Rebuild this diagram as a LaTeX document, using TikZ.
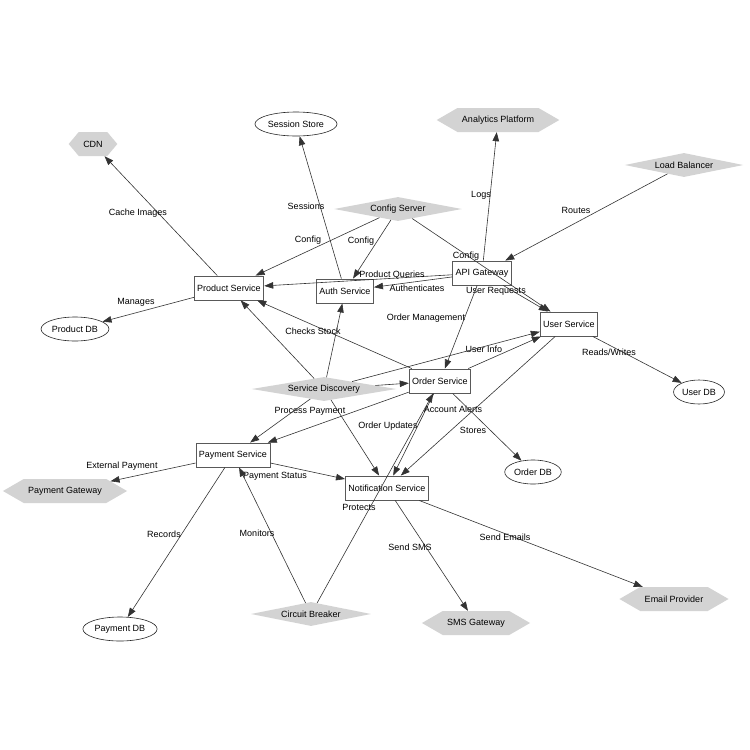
\documentclass[tikz,border=0pt]{standalone}
\usepackage{fontspec}
\setmainfont{Liberation Sans}
\usetikzlibrary{shapes.geometric,shapes.symbols,arrows.meta}
\definecolor{hubgray}{HTML}{D3D3D3}

\begin{document}
\begin{tikzpicture}[x=1pt,y=-1pt,
        font=\fontsize{9}{11}\selectfont,
        svcbox/.style={draw=black!65, line width=0.9pt, rectangle, inner xsep=3pt, minimum height=24pt},
        dbnode/.style={draw=black!85, line width=0.6pt, ellipse, inner sep=1pt, minimum height=24pt},
        hubnode/.style={fill=hubgray, diamond, aspect=6.8, inner sep=1pt, minimum height=24pt},
        extnode/.style={fill=hubgray, signal, signal to=east and west, signal pointer angle=60, inner xsep=4.5pt, minimum height=24pt},
        flow/.style={draw=black!80, line width=0.6pt, -{Triangle[length=9pt,width=6.5pt]}},
        flowlabel/.style={inner sep=0pt}]
        \useasboundingbox (0,0) rectangle (750,750);

        \node[extnode, signal pointer angle=100] (cdn) at (93,144) {CDN};
        \node[dbnode] (sessions) at (296,124) {Session Store};
        \node[extnode] (analytics) at (498,120) {Analytics Platform};
        \node[hubnode] (balancer) at (684,165) {Load Balancer};
        \node[hubnode] (config) at (398,209) {Config Server};
        \node[svcbox] (prodsvc) at (229,288) {Product Service};
        \node[svcbox] (authsvc) at (345,291) {Auth Service};
        \node[svcbox] (apigw) at (482,273) {API Gateway};
        \node[svcbox] (usersvc) at (569,324) {User Service};
        \node[dbnode] (userdb) at (699,392) {User DB};
        \node[dbnode] (proddb) at (75,329) {Product DB};
        \node[hubnode] (discovery) at (324,389) {Service Discovery};
        \node[svcbox] (ordersvc) at (440,381) {Order Service};
        \node[dbnode] (orderdb) at (533,472) {Order DB};
        \node[svcbox] (paysvc) at (233,455) {Payment Service};
        \node[extnode] (paygw) at (65,491) {Payment Gateway};
        \node[svcbox] (notifsvc) at (387,488) {Notification Service};
        \node[dbnode] (paydb) at (120,629) {Payment DB};
        \node[hubnode] (breaker) at (311,614) {Circuit Breaker};
        \node[extnode] (sms) at (476,623) {SMS Gateway};
        \node[extnode] (email) at (674,599) {Email Provider};

        \draw[flow] (prodsvc) -- (cdn) node[flowlabel] at (138,213) {Cache Images};
        \draw[flow] (prodsvc) -- (proddb) node[flowlabel] at (136,302) {Manages};
        \draw[flow] (authsvc) -- (sessions) node[flowlabel] at (306,206) {Sessions};
        \draw[flow] (config) -- (prodsvc) node[flowlabel] at (308,240) {Config};
        \draw[flow] (config) -- (authsvc) node[flowlabel] at (361,241) {Config};
        \draw[flow] (config) -- (usersvc) node[flowlabel] at (466,256) {Config};
        \draw[flow] (apigw) -- (analytics) node[flowlabel] at (481,195) {Logs};
        \draw[flow] (balancer) -- (apigw) node[flowlabel] at (576,210) {Routes};
        \draw[flow] (apigw) -- (prodsvc) node[flowlabel] at (392,275) {Product Queries};
        \draw[flow] (apigw) -- (authsvc) node[flowlabel] at (417,288) {Authenticates};
        \draw[flow] (apigw) -- (usersvc) node[flowlabel] at (496,291) {User Requests};
        \draw[flow] (apigw) -- (ordersvc) node[flowlabel] at (426,318) {Order Management};
        \draw[flow] (usersvc) -- (userdb) node[flowlabel] at (609,352) {Reads/Writes};
        \draw[flow] (ordersvc) -- (prodsvc) node[flowlabel] at (313,331) {Checks Stock};
        \draw[flow] (ordersvc) -- (usersvc) node[flowlabel] at (484,349) {User Info};
        \draw[flow] (ordersvc) -- (paysvc) node[flowlabel] at (310,411) {Process Payment};
        \draw[flow] (ordersvc) -- (notifsvc) node[flowlabel] at (388,426) {Order Updates};
        \draw[flow] (usersvc) -- (notifsvc) node[flowlabel] at (453,409) {Account Alerts};
        \draw[flow] (ordersvc) -- (orderdb) node[flowlabel] at (473,430) {Stores};
        \draw[flow] (paysvc) -- (paygw) node[flowlabel] at (122,466) {External Payment};
        \draw[flow] (paysvc) -- (notifsvc) node[flowlabel] at (275,476) {Payment Status};
        \draw[flow] (paysvc) -- (paydb) node[flowlabel] at (164,534) {Records};
        \draw[flow] (breaker) -- (paysvc) node[flowlabel] at (257,533) {Monitors};
        \draw[flow] (breaker) -- (ordersvc) node[flowlabel] at (359,507) {Protects};
        \draw[flow] (notifsvc) -- (sms) node[flowlabel] at (410,547) {Send SMS};
        \draw[flow] (notifsvc) -- (email) node[flowlabel] at (505,537) {Send Emails};
        \foreach \target in {prodsvc,authsvc,ordersvc,usersvc,paysvc,notifsvc}
          \draw[flow] (discovery) -- (\target);
      \end{tikzpicture}
\end{document}
